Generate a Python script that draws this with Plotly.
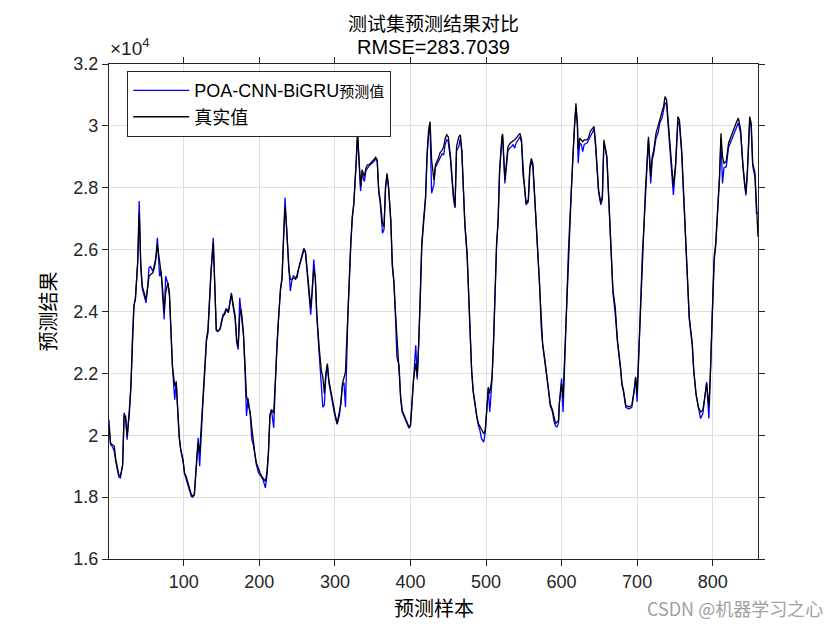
import plotly.graph_objects as go

# ---------------- data ----------------
sample_a = [1,3,5,8,10,12,14,16,19,21,
            23,25,28,30,32,34,36,39,41,43,
            45,48,50,52,54,56,59,61,63,65,
            68,70,72,74,76,79,81,83,85,88,
            90,92,94,96,99,101,103,105,108,110,
            112,114,116,119,121,123,125,128,130,132,
            134,136,139,141,143,145,148,150,152,154,
            156,159,161,163,165,168,170,172,174,176,
            179,181,183,185,188,190,192,194,196,199,
            201,203,205,208,210,212,214,216,219,221,
            223,225,228,230,232,234,236,239,241,243,
            245,248,250,252,254,256,259,261,263,265,
            268,270,272,274,276,279]
true_a = [20300,19750,19700,19650,19210,18890,18730,18680,19000,20620,
          20620,19970,20720,21590,23200,24170,24440,25570,27190,25570,
          24820,24550,24390,24710,25140,25200,25250,25410,25680,26170,
          25680,25250,24710,23960,24600,24930,24600,23100,22230,21590,
          21700,20830,19970,19540,19210,18780,18680,18510,18240,18080,
          18030,18080,18780,19750,19430,20290,20940,22230,23100,23420,
          24500,25250,26220,25040,23420,23370,23420,23640,23850,23900,
          24070,23960,24280,24550,24280,23850,23100,22880,23850,24070,
          23310,22230,21260,21050,20720,20240,19750,19430,19110,18890,
          18780,18680,18620,18510,18780,19430,20620,20830,20720,21690,
          22770,23630,24710,25040,26330,27410,26760,25360,25040,25040,
          25090,25040,25200,25360,25570,25680,26000,25950,25360,24820,
          24120,24710,25360,25140,23960,22880]
pred_a = [20500,19700,19650,19480,19150,18850,18650,18620,19050,20730,
          20550,19860,20800,21550,23150,24200,24400,25650,27570,25450,
          24750,24450,24280,24800,25410,25450,25300,25500,25750,26380,
          25140,25300,24650,23740,25140,24900,24500,23000,22200,21150,
          21750,20750,19900,19500,19150,18750,18600,18450,18200,18020,
          18000,18100,18850,19920,19000,20200,20900,22150,23050,23310,
          24550,25300,26380,24950,23380,23350,23450,23700,23900,23950,
          24100,24000,24350,24600,24200,23750,23000,22770,24440,24000,
          23200,22100,20620,21200,20650,19860,19700,19380,19050,18780,
          18720,18650,18550,18300,18700,19400,20650,20830,20240,21650,
          22800,23600,24750,25100,26400,27680,26700,25250,24660,25000,
          25150,25100,25090,25400,25600,25750,26050,25900,25300,24700,
          23900,24650,25680,25100,23850,22700]

sample_b = [282,284,286,288,290,292,295,297,299,301,
            303,306,308,310,312,314,317,319,321,323,
            325,328,330,332,334,336,339,341,343,345,
            347,350,352,354,356,358,360,363,365,367,
            369,371,374,376,378,380,382,385,387,389,
            391,393,396,398,400,402,404,407,409,411,
            413,415,417,420,422,424,426,428,431,433,
            435,437,439,442,444,446,448,450,453,455,
            457,459,461,464,466,468,470,472,475,477,
            479,481,483,486,488,490,492,494,497,499,
            501,503,505,508,510,512,514,516,518,521,
            522,525,527,529,532,534,536,538,540,542,
            545,547,549,551,553,556,558,560,562,565,
            567,569,571,573,575,578]
true_b = [22100,21890,21350,21990,22320,21780,21350,21020,20810,20590,
          20380,20700,21020,21670,21890,22050,23830,25340,26200,27070,
          27500,28790,29820,28900,28040,28580,28360,28630,28740,28740,
          28790,28850,28920,28990,28900,27930,27600,26850,26740,28040,
          28470,28040,26960,25550,25020,24040,23180,22320,21240,20810,
          20700,20540,20380,20270,20320,21020,21780,22320,21890,22960,
          24480,26200,26850,27710,29120,29870,30140,28900,28250,28740,
          28850,28950,29120,29220,29330,29600,29710,29650,29010,28360,
          27710,27390,29330,29650,29710,29220,27930,26850,25880,24480,
          22960,22100,21450,20910,20590,20380,20270,20160,20050,20160,
          21020,21560,21350,21890,23070,24900,26200,26960,28580,29650,
          29740,28250,28900,29330,29440,29490,29520,29550,29600,29650,
          29760,29550,28420,28040,27500,27610,28680,28950,28790,27500,
          26630,25770,24900,23720,22960,22420]
pred_b = [21500,20910,20970,21900,22250,21700,21300,20950,20750,20550,
          20350,20650,21050,21600,21700,20910,23700,25300,26150,27000,
          27450,28700,29750,28800,27900,28450,28200,28550,28650,28700,
          28750,28800,28850,28950,28850,27850,27500,26530,26650,27950,
          28400,28000,26900,25450,24950,23950,22530,22250,21200,20750,
          20650,20500,20350,20230,20300,21000,21800,22910,21800,22900,
          24400,26100,26800,27650,29000,29700,29950,27820,28100,28650,
          28750,28850,29000,29100,29060,29400,29550,29500,28900,28300,
          27650,27350,29200,29330,29600,29150,27850,26800,25800,24400,
          22900,22050,21400,20850,20550,20300,20150,19890,19780,20100,
          20900,21500,20750,21800,23000,24800,26100,26900,28500,29550,
          29650,28140,28800,29200,29300,29330,29400,29280,29450,29550,
          29650,29450,28580,28000,27450,27550,28600,28850,28700,27400,
          26550,25700,24850,23500,22900,22350]

sample_c = [581,583,585,588,590,592,594,596,597,600,
            602,604,607,609,611,613,615,617,619,621,
            622,624,626,628,630,634,636,638,641,643,
            645,647,649,652,654,656,658,660,663,665,
            668,671,674,678,680,682,685,689,693,696,
            698,700,702,704,707,709,711,715,718,720,
            722,725,728,730,733,735,737,739,742,744,
            746,748,751,754,756,759,761,764,767,769,
            773,775,778,781,784,787,789,792,795,797,
            799,802,804,807,809,811,813,815,818,821,
            824,828,831,834,837,840,842,844,846,849,
            851,853,856,858,860]
true_c = [21890,21450,21020,20810,20540,20380,20430,20480,21020,21670,
          21240,22530,24690,25990,27070,27930,29010,30090,30730,30090,
          29220,29600,29550,29490,29550,29550,29650,29820,29920,29980,
          29440,28470,27930,27500,27710,29550,29330,29010,27390,26200,
          24690,24150,23070,22210,21670,21450,20970,20920,20970,21450,
          21890,21350,22530,24150,25990,26850,27930,29650,28360,29010,
          29220,29760,29980,30190,30460,30630,30950,30840,29870,29220,
          28790,28040,28790,30300,30190,29220,28140,26310,24690,23830,
          22960,22100,21350,20920,20750,20810,21130,21670,20920,21990,
          23610,25770,26200,27390,28360,29760,29010,28790,28850,29440,
          29650,29870,30090,30250,29870,28680,28250,27820,28580,30300,
          30090,28790,28470,27600,26420]
pred_c = [21850,21400,20950,20750,20450,20300,20270,20400,21000,21830,
          20750,22400,24600,25900,27000,27850,28950,30000,30600,29950,
          28790,29450,29400,29170,29400,29450,29550,29700,29800,29900,
          29350,28400,27850,27450,27650,29400,29250,28950,27300,26100,
          24600,23940,23000,22150,21600,21400,20900,20850,20900,21400,
          21850,21080,22450,24050,25900,26750,27850,29550,28140,28900,
          29100,29600,29800,30090,30250,30450,30750,30700,29750,29150,
          28700,27770,28700,30150,30050,29100,28030,26200,24600,23750,
          22900,22050,21300,20850,20540,20700,21050,21720,20540,21850,
          23500,25650,26100,27300,28250,29600,28140,28650,28680,29300,
          29500,29700,29950,30100,29750,28600,28150,27750,28450,30150,
          29950,28700,28350,27180,27180]

x_ticks = [100, 200, 300, 400, 500, 600, 700, 800]
y_ticks = [16000, 18000, 20000, 22000, 24000, 26000, 28000, 30000, 32000]
y_tick_text = ["1.6", "1.8", "2", "2.2", "2.4", "2.6", "2.8", "3", "3.2"]

samples = sample_a + sample_b + sample_c
true_vals = true_a + true_b + true_c
pred_vals = pred_a + pred_b + pred_c
assert len(samples) == len(true_vals) == len(pred_vals)

# ---------------- figure ----------------
LAT = "Arial, Liberation Sans, sans-serif"
CJK = "Noto Sans CJK SC, sans-serif"
AX = "#262626"

fig = go.Figure()
fig.add_trace(go.Scatter(
    x=samples, y=pred_vals, mode="lines",
    line=dict(color="#0000ff", width=1.3),
    name='POA-CNN-BiGRU<span style="font-family:Noto Sans CJK SC;font-size:15px">预测值</span>'))
fig.add_trace(go.Scatter(
    x=samples, y=true_vals, mode="lines",
    line=dict(color="#000000", width=1.3),
    name='<span style="font-family:Noto Sans CJK SC">真实值</span>'))

axis_common = dict(
    showline=True, linecolor=AX, linewidth=1.2, mirror="allticks",
    ticks="outside", ticklen=6, tickwidth=1.2, tickcolor=AX,
    showgrid=True, gridcolor="#dedede", gridwidth=1, zeroline=False,
    tickfont=dict(family=LAT, size=18, color=AX),
)

# the page body adds an 8 px offset, so margins are trimmed to keep the
# plot box at x 109-758, y 64-559 in the final picture
fig.update_layout(
    width=840, height=630,
    margin=dict(l=101, r=90, t=56, b=79),
    paper_bgcolor="white", plot_bgcolor="white",
    showlegend=True,
    legend=dict(
        x=0.0277, y=0.986, xanchor="left", yanchor="top",
        bgcolor="white", bordercolor=AX, borderwidth=1.2,
        font=dict(family=LAT, size=18, color="#000000"),
        itemwidth=56, tracegroupgap=0,
    ),
    xaxis=dict(range=[1, 860], tickvals=x_ticks, **axis_common),
    yaxis=dict(range=[16000, 32000], tickvals=y_ticks, ticktext=y_tick_text, **axis_common),
)

fig.add_annotation(text="测试集预测结果对比", xref="paper", yref="paper",
                   x=0.5, y=1.084, xanchor="center", yanchor="middle", showarrow=False,
                   borderpad=0, font=dict(family=CJK, size=19, color="#000000"))
fig.add_annotation(text="RMSE=283.7039", xref="paper", yref="paper",
                   x=0.5, y=1.034, xanchor="center", yanchor="middle", showarrow=False,
                   font=dict(family=LAT, size=20, color="#000000"))
fig.add_annotation(text="×10<sup>4</sup>", xref="paper", yref="paper",
                   x=-0.002, y=1.006, xanchor="left", yanchor="bottom", showarrow=False,
                   font=dict(family=LAT, size=19, color=AX))
fig.add_annotation(text="预测样本", xref="paper", yref="paper",
                   x=0.5, y=-0.097, xanchor="center", yanchor="middle", showarrow=False,
                   font=dict(family=CJK, size=20, color="#000000"))
fig.add_annotation(text="预测结果", xref="paper", yref="paper", textangle=-90,
                   x=-0.0955, y=0.5, xanchor="center", yanchor="middle", showarrow=False,
                   font=dict(family=CJK, size=20, color="#000000"))
fig.add_annotation(text="CSDN @机器学习之心", xref="paper", yref="paper",
                   x=1.103, y=-0.099, xanchor="right", yanchor="middle", showarrow=False,
                   font=dict(family=CJK, size=18, color="#a0a0a0"))

fig.write_html("out.html")
